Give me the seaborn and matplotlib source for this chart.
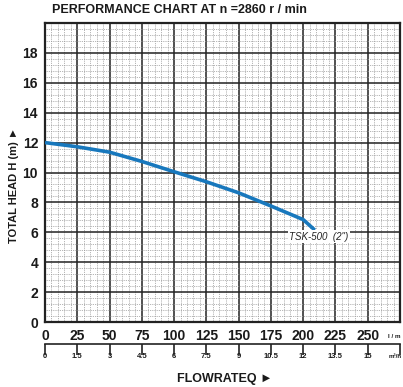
import numpy as np
import pandas as pd
import matplotlib
matplotlib.use("Agg")
import matplotlib.pyplot as plt
from matplotlib.ticker import MultipleLocator
import seaborn as sns

# Pump curve TSK-500 (2") at n = 2860 r/min
flow_lpm = [0, 25, 50, 75, 100, 125, 150, 175, 200, 209]
head_m = [12.0, 11.72, 11.36, 10.74, 10.05, 9.38, 8.64, 7.76, 6.85, 6.15]

x_ticks_lpm = [0, 25, 50, 75, 100, 125, 150, 175, 200, 225, 250]
y_ticks_m = [0, 2, 4, 6, 8, 10, 12, 14, 16, 18]
x_ticks_m3h = [0, 1.5, 3, 4.5, 6, 7.5, 9, 10.5, 12, 13.5, 15]
x_ticks_m3h_labels = ["0", "1.5", "3", "4.5", "6", "7.5", "9", "10.5", "12", "13.5", "15"]

curve_label = 'TSK-500  (2")'
title = "PERFORMANCE CHART AT n =2860 r / min"

sns.set_theme(style="white")
plt.rcParams["font.family"] = ["Liberation Sans", "DejaVu Sans"]

W, H = 403, 387
fig = plt.figure(figsize=(W / 100, H / 100), dpi=100)
fig.patch.set_facecolor("white")

L, R, T, B = 45, 400, 23, 322
ax = fig.add_axes([L / W, 1 - B / H, (R - L) / W, (B - T) / H])

df = pd.DataFrame({"flow": flow_lpm, "head": head_m})
sns.lineplot(data=df, x="flow", y="head", ax=ax, color="#1878bd",
             linewidth=2.6, zorder=5, solid_capstyle="butt")

ax.set_xlim(0, 275)
ax.set_ylim(0, 20)
ax.xaxis.set_major_locator(MultipleLocator(25))
ax.yaxis.set_major_locator(MultipleLocator(2))
ax.xaxis.set_minor_locator(MultipleLocator(5))
ax.yaxis.set_minor_locator(MultipleLocator(0.4))
ax.grid(which="minor", color="#9a9a9a", linestyle=(0, (1, 1.2)), linewidth=0.6)
ax.grid(which="major", color="#222222", linewidth=1.1)
ax.set_axisbelow(True)
for s in ax.spines.values():
    s.set_visible(True)
    s.set_color("#222222")
    s.set_linewidth(1.6)

ax.set_xticks(x_ticks_lpm)
ax.set_xticklabels([str(v) for v in x_ticks_lpm])
ax.set_yticks(y_ticks_m)
ax.set_yticklabels([str(v) for v in y_ticks_m])
ax.tick_params(axis="both", which="both", length=0)
ax.tick_params(axis="x", pad=5, labelsize=10)
ax.tick_params(axis="y", pad=5, labelsize=10)
for lbl in ax.get_xticklabels() + ax.get_yticklabels():
    lbl.set_fontweight("bold")
    lbl.set_color("#1a1a1a")
ax.set_xlabel("")
ax.set_ylabel("")

ax.text(189, 5.7, curve_label, fontsize=7, fontstyle="italic", color="#222222",
        va="center", ha="left", zorder=6,
        bbox=dict(facecolor="white", edgecolor="none", pad=1.0))

# Title
fig.text(52 / W, 1 - 10 / H, title, fontsize=9, fontweight="bold",
         color="#1a1a1a", ha="left", va="center")

# Y axis label
fig.text(14 / W, 1 - 185 / H, "TOTAL HEAD H (m) \u25ba", rotation=90, fontsize=8,
         fontweight="bold", color="#1a1a1a", ha="center", va="center")

# l/m unit
fig.text(401 / W, 1 - 337 / H, "l / m", fontsize=4.5, fontweight="bold",
         color="#1a1a1a", ha="right", va="center")

# Secondary flow scale in m3/h
ax2 = fig.add_axes([L / W, 1 - 352 / H, (R - L) / W, 8 / H])
ax2.set_facecolor("none")
ax2.set_xlim(0, 16.5)
ax2.set_ylim(0, 1)
for k, s in ax2.spines.items():
    s.set_visible(k == "top")
ax2.spines["top"].set_color("#222222")
ax2.spines["top"].set_linewidth(1.2)
ax2.set_yticks([])
ax2.set_xticks(x_ticks_m3h + [16.5])
ax2.set_xticklabels(x_ticks_m3h_labels + [""])
ax2.tick_params(axis="x", top=True, bottom=False, labeltop=False, labelbottom=True,
                direction="in", length=8, width=1.2, color="#222222",
                labelsize=5.5, pad=1)
for lbl in ax2.get_xticklabels():
    lbl.set_fontweight("bold")
    lbl.set_color("#1a1a1a")

fig.text(402 / W, 1 - 356 / H, "m\u00b3/h", fontsize=4.5, fontweight="bold",
         color="#1a1a1a", ha="right", va="center")

fig.text(225 / W, 1 - 379 / H, "FLOWRATEQ \u25ba", fontsize=9, fontweight="bold",
         color="#1a1a1a", ha="center", va="center")

fig.savefig("out.png", dpi=100, facecolor="white")
